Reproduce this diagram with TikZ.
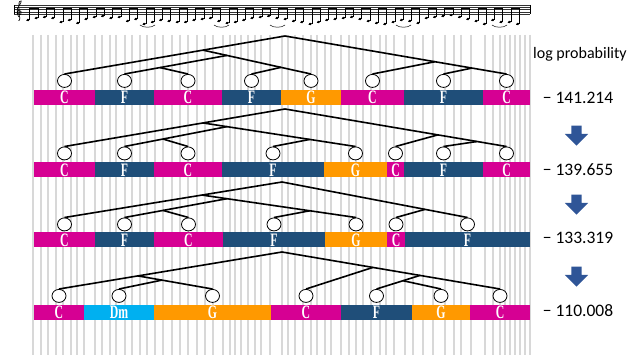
\documentclass[tikz,border=0pt]{standalone}
\usepackage{fontspec}
\setmainfont{Carlito}
\newfontfamily\chordfont[FakeStretch=0.62]{Liberation Serif Bold}
\usetikzlibrary{positioning,calc,shapes.geometric,shapes.arrows}
\definecolor{cC}{RGB}{214,0,147}
\definecolor{cF}{RGB}{31,78,121}
\definecolor{cG}{RGB}{255,153,0}
\definecolor{cDm}{RGB}{0,176,240}
\definecolor{arrowblue}{RGB}{47,85,151}
\definecolor{gridgray}{RGB}{216,216,216}

\begin{document}
\begin{tikzpicture}[x=1pt,y=-1pt,
  gridline/.style={gridgray, line width=1.4pt},
  staffline/.style={line width=0.4pt, black!80},
  chordbar/.style={rectangle, inner sep=0pt, minimum height=15pt, text=white, font={\fontsize{19}{19}\chordfont}},
  notecirc/.style={ellipse, draw, fill=white, line width=0.8pt, inner sep=0pt, minimum width=14pt, minimum height=13pt},
  branch/.style={line width=1.6pt},
  scorelab/.style={font=\fontsize{17.5}{20}\selectfont},
  downarrow/.style={single arrow, shape border rotate=270, fill=arrowblue, inner sep=5pt, minimum height=20pt, single arrow head extend=6.5pt}]
  \useasboundingbox (0,0) rectangle (643,358);

  % score at the top
  \foreach \sy in {5,7.25,9.5,11.75,14} \draw[staffline] (14,\sy) -- (530,\sy);
  \draw[line width=0.5pt] (14,5) -- (14,14) (530,5) -- (530,14);
  \draw[line width=0.6pt] plot[smooth] coordinates {(19,17) (17.2,13.5) (18.5,10.5) (21,11.5) (20.5,14.5) (17.5,13) (17.5,8.5) (20.5,3.5) (21.2,1) (19.5,1.5) (18.8,6) (19.8,19) (18.5,20.5)};
  \foreach \hy [count=\k] in {20,18,17,18,22,20,23,19,17,16,18,17,21,19,24,22,20,21,22,22,20,19,18,21,23,22,20,18,17,16,18,19,21,22,24,22,20,19,18,17,19,21,23,24,22,20,21,23,18,17,16,15,17,19,21,24,20,22,22,24} {
    \pgfmathsetmacro\nx{19.7+8.3*\k}
    \fill[rotate around={20:(\nx,\hy)}] (\nx,\hy) ellipse (1.9pt and 1.3pt);
    \draw[line width=0.5pt] (\nx+1.6,\hy) -- (\nx+1.6,8.5);
    \ifodd\k\else \draw[line width=1.3pt] (\nx-6.7,8.5) -- (\nx+1.85,8.5); \fi
  }
  \foreach \tx in {140,214,270,396,492} \draw[line width=0.5pt] (\tx,25) .. controls (\tx+3,28) and (\tx+12,28) .. (\tx+15,25);

  % grid of onsets
  \foreach \gx in {33,41,48,56,63,71,77,84,95,102,110,116,125,132,140,147,155,163,172,180,188,197,205,213,223,230,235,241,248,255,261,270,282,288,295,303,311,317,325,331,341,349,356,363,371,380,386,394,405,413,423,433,445,454,461,471,485,493,500,505,510,515,520,525,530}
    \draw[gridline] (\gx,35) -- (\gx,355);

  % chord rows
  \foreach \a/\b/\ch [count=\i] in {34/95/C,95/154/F,154/222/C,222/281/F,281/341/G,341/404/C,404/483/F,483/530/C} {
    \pgfmathsetmacro\w{\b-\a}
    \node[chordbar, fill=c\ch, minimum width=\w pt] (r1b\i) at ({(\a+\b)/2},97.5) {\ch};
    \node[notecirc, above=2pt of r1b\i] (r1c\i) {};
  }
  \foreach \a/\b/\ch [count=\i] in {34/95/C,95/154/F,154/222/C,222/324/F,324/387/G,387/404/C,404/483/F,483/530/C} {
    \pgfmathsetmacro\w{\b-\a}
    \node[chordbar, fill=c\ch, minimum width=\w pt] (r2b\i) at ({(\a+\b)/2},170) {\ch};
    \node[notecirc, above=2pt of r2b\i] (r2c\i) {};
  }
  \foreach \a/\b/\ch [count=\i] in {34/95/C,95/154/F,154/223/C,223/325/F,325/387/G,387/405/C,405/530/F} {
    \pgfmathsetmacro\w{\b-\a}
    \node[chordbar, fill=c\ch, minimum width=\w pt] (r3b\i) at ({(\a+\b)/2},240) {\ch};
    \node[notecirc, above=1pt of r3b\i] (r3c\i) {};
  }
  \foreach \a/\b/\ch [count=\i] in {34/84/C,84/154/Dm,154/271/G,271/341/C,341/412/F,412/470/G,470/530/C} {
    \pgfmathsetmacro\w{\b-\a}
    \node[chordbar, fill=c\ch, minimum width=\w pt] (r4b\i) at ({(\a+\b)/2},312.5) {\ch};
    \node[notecirc, above=2pt of r4b\i] (r4c\i) {};
  }

  % tree 1
  \coordinate (r1root) at (285,36);
  \coordinate (r1A) at ($(r1root)!0.372!(r1c1.north)$);
  \coordinate (r1B) at ($(r1A)!0.222!(r1c5.north)$);
  \coordinate (r1D) at ($(r1B)!0.654!(r1c2.north)$);
  \coordinate (r1E) at ($(r1A)!0.722!(r1c5.north)$);
  \coordinate (r1F) at ($(r1root)!0.677!(r1c8.north)$);
  \coordinate (r1G) at ($(r1root)!0.844!(r1c8.north)$);
  \draw[branch] (r1c1.north) -- (r1root) -- (r1c8.north);
  \draw[branch] (r1A) -- (r1c5.north);
  \draw[branch] (r1B) -- (r1c2.north);
  \draw[branch] (r1D) -- (r1c3.north);
  \draw[branch] (r1E) -- (r1c4.north);
  \draw[branch] (r1F) -- (r1c6.north);
  \draw[branch] (r1G) -- (r1c7.north);

  % tree 2
  \coordinate (r2root) at (285,109);
  \coordinate (r2A) at ($(r2root)!0.372!(r2c1.north)$);
  \coordinate (r2B) at ($(r2A)!0.157!(r2c5.north)$);
  \coordinate (r2D) at ($(r2B)!0.624!(r2c2.north)$);
  \coordinate (r2E) at ($(r2A)!0.70!(r2c5.north)$);
  \coordinate (r2F) at ($(r2root)!0.69!(r2c8.north)$);
  \coordinate (r2G) at ($(r2root)!0.867!(r2c8.north)$);
  \draw[branch] (r2c1.north) -- (r2root) -- (r2c8.north);
  \draw[branch] (r2A) -- (r2c5.north);
  \draw[branch] (r2B) -- (r2c2.north);
  \draw[branch] (r2D) -- (r2c3.north);
  \draw[branch] (r2E) -- (r2c4.north);
  \draw[branch] (r2F) -- (r2c6.north);
  \draw[branch] (r2G) -- (r2c7.north);

  % tree 3
  \coordinate (r3root) at (282,182);
  \coordinate (r3A) at ($(r3root)!0.368!(r3c1.north)$);
  \coordinate (r3B) at ($(r3A)!0.162!(r3c5.north)$);
  \coordinate (r3D) at ($(r3B)!0.624!(r3c2.north)$);
  \coordinate (r3E) at ($(r3A)!0.70!(r3c5.north)$);
  \coordinate (r3F) at ($(r3root)!0.771!(r3c7.north)$);
  \draw[branch] (r3c1.north) -- (r3root) -- (r3c7.north);
  \draw[branch] (r3A) -- (r3c5.north);
  \draw[branch] (r3B) -- (r3c2.north);
  \draw[branch] (r3D) -- (r3c3.north);
  \draw[branch] (r3E) -- (r3c4.north);
  \draw[branch] (r3F) -- (r3c6.north);

  % tree 4
  \coordinate (r4root) at (282,252);
  \coordinate (r4A) at ($(r4root)!0.646!(r4c1.north)$);
  \coordinate (r4B) at ($(r4A)!0.322!(r4c3.north)$);
  \coordinate (r4E) at ($(r4root)!0.417!(r4c7.north)$);
  \coordinate (r4F) at ($(r4root)!0.633!(r4c7.north)$);
  \coordinate (r4G) at ($(r4F)!0.39!(r4c5.north)$);
  \draw[branch] (r4c1.north) -- (r4root) -- (r4c7.north);
  \draw[branch] (r4A) -- (r4c3.north);
  \draw[branch] (r4B) -- (r4c2.north);
  \draw[branch] (r4E) -- (r4c4.north);
  \draw[branch] (r4F) -- (r4c5.north);
  \draw[branch] (r4G) -- (r4c6.north);

  % log probabilities
  \node[font=\fontsize{16}{19}\selectfont] (logp) at (580,54) {log probability};
  \node[scorelab] (s1) at (578,98) {− 141.214};
  \node[downarrow] (d1) at (576.5,133) {};
  \node[scorelab] (s2) at (578,170) {− 139.655};
  \node[downarrow] (d2) at (576.5,202) {};
  \node[scorelab] (s3) at (578,238) {− 133.319};
  \node[downarrow] (d3) at (576.5,274) {};
  \node[scorelab] (s4) at (578,311) {− 110.008};
\end{tikzpicture}
\end{document}
